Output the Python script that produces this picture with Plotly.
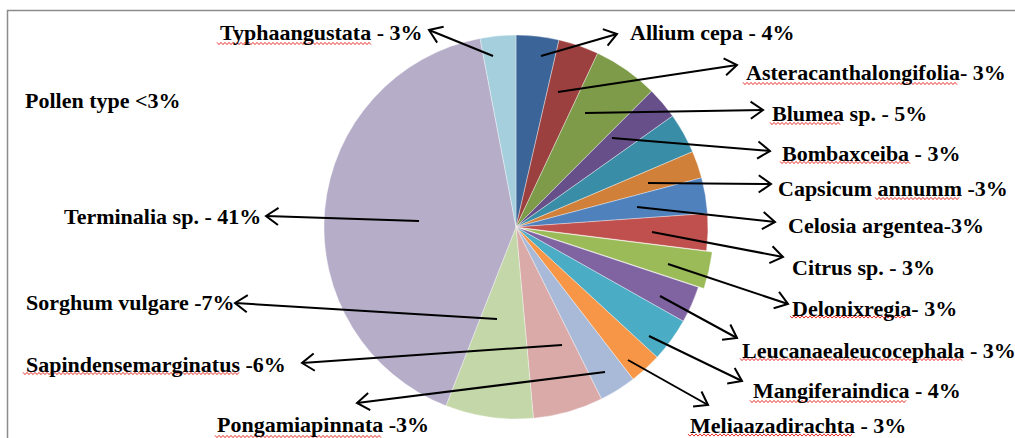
import math
import plotly.graph_objects as go

# ---- data ----
taxa = ["Allium cepa", "Asteracanthalongifolia", "Blumea sp.", "Bombaxceiba",
        "Pollen type <3%", "Capsicum annumm", "Celosia argentea", "Citrus sp.",
        "Delonixregia", "Leucanaealeucocephala", "Mangiferaindica",
        "Meliaazadirachta", "Pongamiapinnata", "Sapindensemarginatus",
        "Sorghum vulgare", "Terminalia sp.", "Typhaangustata"]
share = [3.6, 3.4, 5.5, 2.7, 3.4, 2.3, 3.0, 3.1, 3.1, 3.1, 3.7, 2.7, 3.1, 5.9, 7.4, 41.1, 3.0]
label_text = ["Allium cepa - 4%", "Asteracanthalongifolia- 3%", "Blumea sp. - 5%",
              "Bombaxceiba - 3%", "Pollen type <3%", "Capsicum annumm -3%",
              "Celosia argentea-3%", "Citrus sp. - 3%", "Delonixregia- 3%",
              "Leucanaealeucocephala - 3%", "Mangiferaindica - 4%",
              "Meliaazadirachta - 3%", "Pongamiapinnata -3%",
              "Sapindensemarginatus -6%", "Sorghum vulgare -7%",
              "Terminalia sp. - 41%", "Typhaangustata - 3%"]
colors = ["#3B6598", "#9B403E", "#7D9B48", "#67508A", "#3A8DA6", "#D1803A",
          "#4F81BD", "#C0504D", "#9BBB59", "#8064A2", "#4BACC6", "#F79646",
          "#A9BAD9", "#D9AAA8", "#C4D7A9", "#B6ADC9", "#A6CFDD"]
pull = [0, 0, 0, 0, 0, 0, 0, 0, 0.03, 0, 0, 0, 0, 0, 0, 0, 0]

# ---- layout helpers (pixel positions of label text and arrows) ----
W, H = 1015, 438
# text left x, text centre y
text_pos = [(628, 33), (744, 72), (770, 113), (780, 153), (23, 100), (776, 188),
            (786, 225), (790, 267), (790, 308), (740, 350), (751, 390),
            (688, 425), (215, 424), (24, 364), (24, 302), (62, 216), (218, 33)]
# arrow tail (inside slice) and head (near label); None = no arrow
arrows = [((541, 56), (617, 34)), ((558, 92), (737, 65)), ((585, 113), (763, 110)),
          ((612, 138), (770, 151)), None, ((648, 183), (771, 184)),
          ((637, 207), (775, 222)), ((652, 232), (783, 257)), ((668, 264), (788, 304)),
          ((660, 296), (737, 338)), ((649, 336), (742, 381)), ((628, 360), (708, 405)),
          ((605, 372), (357, 403)), ((562, 345), (302, 363)), ((497, 319), (235, 303)),
          ((419, 221), (266, 216)), ((493, 56), (429, 30))]
# spell-checker wavy underlines: (x start, x end, y)
squiggles = [(217, 372, 43.5), (743, 958, 83.5), (770, 840, 123.5), (780, 910, 162.5),
             (875, 960, 198.5), (790, 907, 317), (740, 963, 359.5), (750, 907, 401.5),
             (688, 853, 435), (23, 240, 373.5), (215, 382, 436.5)]


def px(x):
    return x / W


def py(y):
    return 1 - y / H


cx, cy, r = 516, 227, 192
half = r * (1 + max(pull))

fig = go.Figure(go.Pie(
    labels=taxa, values=share, sort=False, direction="clockwise", rotation=0,
    marker=dict(colors=colors, line=dict(color="rgba(255,255,255,0.6)", width=0.6)),
    pull=pull, textinfo="none", hoverinfo="label+percent", showlegend=False,
    domain=dict(x=[px(cx - half), px(cx + half)], y=[py(cy + half), py(cy - half)]),
))

annotations = []
for txt, (tx, ty) in zip(label_text, text_pos):
    annotations.append(dict(
        x=px(tx), y=py(ty), xref="paper", yref="paper", text=txt.replace("<", "&lt;"),
        showarrow=False, xanchor="left", yanchor="middle",
        font=dict(family="Liberation Serif", size=22, color="black", weight="bold")))

shapes = []
for a in arrows:
    if a is None:
        continue
    (x0, y0), (x1, y1) = a
    shapes.append(dict(type="line", xref="paper", yref="paper",
                       x0=px(x0), y0=py(y0), x1=px(x1), y1=py(y1),
                       line=dict(color="black", width=2)))
    ang = math.atan2(y0 - y1, x0 - x1)
    L, spread = 15, math.radians(35)
    w1 = (x1 + L * math.cos(ang + spread), y1 + L * math.sin(ang + spread))
    w2 = (x1 + L * math.cos(ang - spread), y1 + L * math.sin(ang - spread))
    path = "M {:.5f},{:.5f} L {:.5f},{:.5f} L {:.5f},{:.5f}".format(
        px(w1[0]), py(w1[1]), px(x1), py(y1), px(w2[0]), py(w2[1]))
    shapes.append(dict(type="path", xref="paper", yref="paper", path=path,
                       line=dict(color="black", width=2)))

for xs, xe, yy in squiggles:
    pts = []
    x, k = xs, 0
    while x <= xe:
        pts.append((x, yy + (1.1 if k % 2 else -1.1)))
        x += 2
        k += 1
    path = "M " + " L ".join("{:.5f},{:.5f}".format(px(a), py(b)) for a, b in pts)
    shapes.append(dict(type="path", xref="paper", yref="paper", path=path,
                       line=dict(color="#E8302A", width=1)))

# outer frame
shapes.append(dict(type="rect", xref="paper", yref="paper",
                   x0=px(7.5), y0=py(460), x1=px(1040), y1=py(10.5),
                   line=dict(color="#8C8C8C", width=1.5)))

fig.update_layout(width=W, height=H, margin=dict(l=0, r=0, t=0, b=0),
                  paper_bgcolor="white", plot_bgcolor="white",
                  annotations=annotations, shapes=shapes)
fig.write_html("out.html", config={"displayModeBar": False},
               post_script="document.body.style.margin='0';document.body.style.padding='0';")
